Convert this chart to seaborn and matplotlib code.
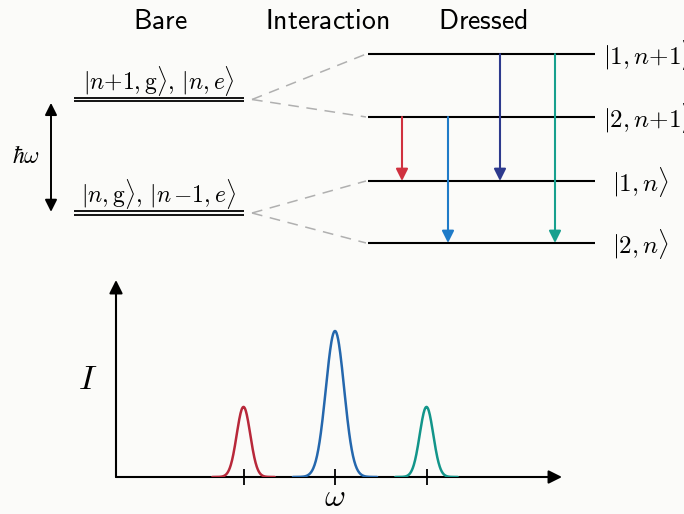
import numpy as np
import pandas as pd
import matplotlib
matplotlib.use("Agg")
import matplotlib.pyplot as plt
import seaborn as sns

# ---------------- data ----------------
titles = ["Bare", "Interaction", "Dressed"]
bare_energies = [1.0, 0.0]
bare_labels = [r"$|n{+}1,\mathrm{g}\rangle,\,|n,e\rangle$",
               r"$|n,\mathrm{g}\rangle,\,|n\,{-}1,e\rangle$"]
dressed_energies = [1.40, 0.846, 0.282, -0.264]
dressed_labels = [r"$|1,n{+}1\rangle$", r"$|2,n{+}1\rangle$",
                  r"$|1,n\rangle$", r"$|2,n\rangle$"]
transition_from = [1, 1, 0, 0]
transition_to = [2, 3, 2, 3]
transition_colors = ["#d0313f", "#1f7bc8", "#2d3a8e", "#17a08e"]

peak_names = ["lower", "central", "upper"]
peak_centers = [-1.0, 0.0, 1.0]
peak_heights = [0.48, 1.0, 0.48]
peak_widths = [0.074, 0.10, 0.074]
peak_colors = ["#b8283a", "#2467ad", "#12958a"]

# ---------------- style ----------------
sns.set_theme(style="white")
plt.rcParams["font.family"] = ["DejaVu Sans"]
plt.rcParams["mathtext.fontset"] = "cm"
plt.rcParams["text.color"] = "black"

W, H = 684, 514
fig = plt.figure(figsize=(W / 100, H / 100), dpi=100)
fig.patch.set_facecolor("#fbfbf9")

# ---------- top: level diagram (x: layout px, y: energy) ----------
scale = 113.5  # px per energy unit
y0 = 213       # px of E = 0
ax = fig.add_axes([0, 0, 1, 1])
ax.set_facecolor("none")
ax.set_xlim(0, W)
ax.set_ylim(-(H - y0) / scale, y0 / scale)
ax.axis("off")

def ey(py):
    return (y0 - py) / scale

for t, x in zip(titles, [160, 327, 483]):
    ax.text(x, ey(21), r"$\mathsf{" + t + "}$", fontsize=20, ha="center", va="center",
            color="black")

bare_x0, bare_x1 = 74, 244
dr_x0, dr_x1 = 368, 595
gap = 1.8 / scale
for E, lab in zip(bare_energies, bare_labels):
    ax.hlines([E - gap, E + gap], bare_x0, bare_x1, color="black", lw=1.3)
    ax.text((bare_x0 + bare_x1) / 2, E + 0.165, lab, fontsize=17, ha="center", va="center",
            color="black")

for i, E in enumerate(dressed_energies):
    ax.hlines(E, dr_x0, dr_x1, color="black", lw=1.5)
    ax.text(603 if i < 2 else 612, E - 0.01, dressed_labels[i], fontsize=18, ha="left",
            va="center", color="black")

# dashed interaction lines
for bi, E in enumerate(bare_energies):
    for di in (2 * bi, 2 * bi + 1):
        ax.plot([252, 366], [E, dressed_energies[di]], color="#b0b0b0", lw=1.1,
                dashes=(7, 5))

# transitions
for x, fi, ti, c in zip([402, 448, 500, 555], transition_from, transition_to, transition_colors):
    ax.annotate("", xy=(x, dressed_energies[ti]), xytext=(x, dressed_energies[fi]),
                arrowprops=dict(arrowstyle="-|>", color=c, lw=1.5, mutation_scale=18,
                                shrinkA=0, shrinkB=0))

# hbar omega arrow
ax.annotate("", xy=(51, bare_energies[0] - 0.03), xytext=(51, bare_energies[1] + 0.01),
            arrowprops=dict(arrowstyle="<|-|>", color="black", lw=1.4, mutation_scale=18,
                            shrinkA=0, shrinkB=0))
ax.text(26, ey(156), r"$\hbar\omega$", fontsize=17, ha="center", va="center", color="black")

# ---------- bottom: spectrum ----------
px_unit = 91.5
ax2 = fig.add_axes([116 / W, (H - 477) / H, (562 - 116) / W, (477 - 280) / H])
ax2.set_facecolor("none")
ax2.set_xlim((116 - 335) / px_unit, (562 - 335) / px_unit)
ax2.set_ylim(0, 197 / 146)

rows = []
for name, c0, h, s in zip(peak_names, peak_centers, peak_heights, peak_widths):
    om = np.linspace(c0 - 4.6 * s, c0 + 4.6 * s, 200)
    for o, v in zip(om, h * np.exp(-0.5 * ((om - c0) / s) ** 2)):
        rows.append({"omega": o, "I": v, "peak": name})
df = pd.DataFrame(rows)
sns.lineplot(data=df, x="omega", y="I", hue="peak", palette=dict(zip(peak_names, peak_colors)),
             legend=False, lw=1.8, ax=ax2, zorder=3, estimator=None)

for s in ax2.spines.values():
    s.set_visible(False)
arrow_kw = dict(arrowstyle="-|>", color="black", lw=1.5, mutation_scale=20, shrinkA=0, shrinkB=0)
ax2.annotate("", xy=(1, 0), xytext=(0, 0), xycoords="axes fraction", arrowprops=arrow_kw,
             annotation_clip=False, zorder=1)
ax2.annotate("", xy=(0, 1), xytext=(0, 0), xycoords="axes fraction", arrowprops=arrow_kw,
             annotation_clip=False, zorder=1)
ax2.set_xticks(peak_centers)
ax2.set_xticklabels([])
ax2.set_yticks([])
ax2.tick_params(axis="x", bottom=True, direction="inout", length=11, width=1.3, color="black")
ax2.set_xlabel("")
ax2.set_ylabel("")
ax2.text(0, -21 / 146, r"$\omega$", fontsize=23, ha="center", va="center", color="black")
ax2.text((88 - 335) / px_unit, (477 - 379) / 146, r"$I$", fontsize=25, ha="center", va="center",
         color="black")

fig.savefig("out.png", dpi=100, facecolor=fig.get_facecolor())
